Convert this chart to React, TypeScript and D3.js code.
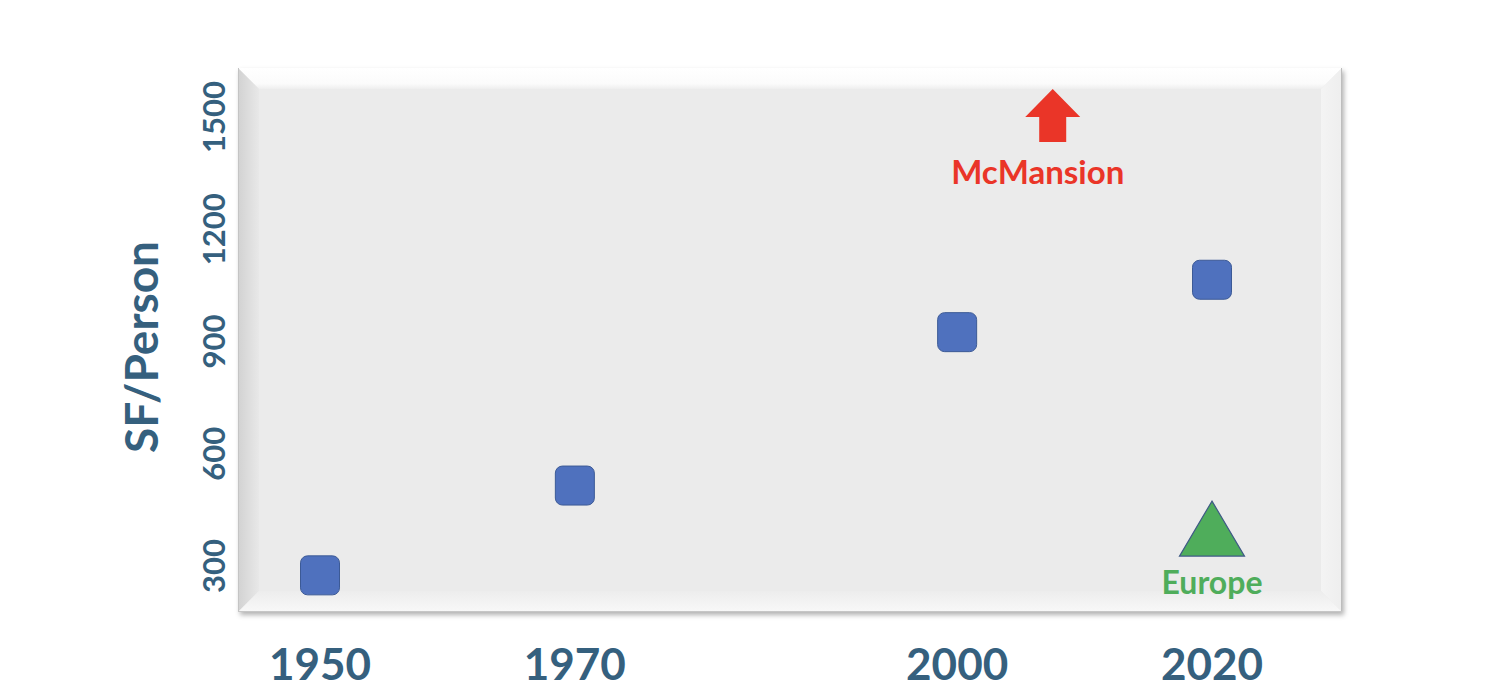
import React from "react";
import * as d3 from "d3";

const years = [1950, 1970, 2000, 2020];
const sfPerPerson = [275, 515, 925, 1065];
const xTickLabels = ["1950", "1970", "2000", "2020"];
const yTicks = [300, 600, 900, 1200, 1500];
const europeYear = [2020];
const europeValue = [400];
const mcmansionYear = [2007.5];
const mcmansionValue = [1500];

const W = 1496;
const H = 694;
const FONT = "Lato, 'Open Sans', sans-serif";
const AXIS_COLOR = "#35607e";

export default function App() {
  const x = d3.scaleLinear().domain([1950, 2020]).range([320, 1212]);
  const y = d3.scaleLinear().domain([300, 1500]).range([566, 117]);

  const L = 238, T = 68, R = 1342, B = 612, b = 21;
  const pts = (a: number[][]) => a.map((p) => p.join(",")).join(" ");

  const sq = 39;
  const triW = 65, triH = 55;

  const ax = x(mcmansionYear[0]);
  const ay = y(mcmansionValue[0]);
  const arrowPath = d3.path();
  const top = ay - 28, headBase = ay, bottom = ay + 25;
  arrowPath.moveTo(ax, top);
  arrowPath.lineTo(ax + 27.5, headBase);
  arrowPath.lineTo(ax + 13.5, headBase);
  arrowPath.lineTo(ax + 13.5, bottom);
  arrowPath.lineTo(ax - 13.5, bottom);
  arrowPath.lineTo(ax - 13.5, headBase);
  arrowPath.lineTo(ax - 27.5, headBase);
  arrowPath.closePath();

  const ex = x(europeYear[0]);
  const ey = y(europeValue[0]);
  const tri = d3.path();
  tri.moveTo(ex, ey - triH / 2);
  tri.lineTo(ex + triW / 2, ey + triH / 2);
  tri.lineTo(ex - triW / 2, ey + triH / 2);
  tri.closePath();

  return (
    <svg
      width={W}
      height={H}
      style={{ position: "absolute", left: 0, top: 0, display: "block", background: "#fff" }}
    >
      <defs>
        <filter id="shadow" x="-5%" y="-5%" width="110%" height="115%">
          <feDropShadow dx="2" dy="3" stdDeviation="2.5" floodColor="#000" floodOpacity="0.3" />
        </filter>
        <linearGradient id="gTop" x1="0" y1="0" x2="0" y2="1">
          <stop offset="0" stopColor="#ffffff" />
          <stop offset="0.75" stopColor="#fbfbfb" />
          <stop offset="1" stopColor="#eeeeee" />
        </linearGradient>
        <linearGradient id="gLeft" x1="0" y1="0" x2="1" y2="0">
          <stop offset="0" stopColor="#d2d2d2" />
          <stop offset="1" stopColor="#e8e8e8" />
        </linearGradient>
        <linearGradient id="gRight" x1="0" y1="0" x2="1" y2="0">
          <stop offset="0" stopColor="#f4f4f4" />
          <stop offset="1" stopColor="#eeeeee" />
        </linearGradient>
        <linearGradient id="gBottom" x1="0" y1="0" x2="0" y2="1">
          <stop offset="0" stopColor="#ededed" />
          <stop offset="1" stopColor="#f8f8f8" />
        </linearGradient>
      </defs>

      {/* beveled panel */}
      <rect x={L} y={T} width={R - L} height={B - T} fill="#ebebeb" filter="url(#shadow)" />
      <polygon points={pts([[L, T], [R, T], [R - b, T + b], [L + b, T + b]])} fill="url(#gTop)" />
      <polygon points={pts([[L, T], [L + b, T + b], [L + b, B - b], [L, B]])} fill="url(#gLeft)" />
      <polygon points={pts([[R, T], [R, B], [R - b, B - b], [R - b, T + b]])} fill="url(#gRight)" />
      <polygon points={pts([[L, B], [L + b, B - b], [R - b, B - b], [R, B]])} fill="url(#gBottom)" />
      <rect x={L + b} y={T + b} width={R - L - 2 * b} height={B - T - 2 * b} fill="#ebebeb" />
      <line x1={L + 0.5} y1={T} x2={L + 0.5} y2={B} stroke="#c4c4c4" strokeWidth={1} />
      <line x1={R - 0.5} y1={T} x2={R - 0.5} y2={B} stroke="#bdbdbd" strokeWidth={1} />
      <line x1={L} y1={B - 0.5} x2={R} y2={B - 0.5} stroke="#c6c6c6" strokeWidth={1} />

      {/* y tick labels */}
      {yTicks.map((t) => (
        <text
          key={t}
          transform={`translate(225,${y(t)}) rotate(-90)`}
          textAnchor="middle"
          fontFamily={FONT}
          fontWeight={700}
          fontSize={31}
          fill={AXIS_COLOR}
        >
          {t}
        </text>
      ))}

      {/* y axis title */}
      <text
        transform={`translate(158,347) rotate(-90)`}
        textAnchor="middle"
        fontFamily={FONT}
        fontWeight={700}
        fontSize={46}
        fill={AXIS_COLOR}
      >
        SF/Person
      </text>

      {/* x tick labels */}
      {years.map((yr, i) => (
        <text
          key={yr}
          x={x(yr)}
          y={680}
          textAnchor="middle"
          fontFamily={FONT}
          fontWeight={700}
          fontSize={44}
          fill={AXIS_COLOR}
        >
          {xTickLabels[i]}
        </text>
      ))}

      {/* data squares */}
      {years.map((yr, i) => (
        <rect
          key={yr}
          x={x(yr) - sq / 2}
          y={y(sfPerPerson[i]) - sq / 2}
          width={sq}
          height={sq}
          rx={7}
          ry={7}
          fill="#4f71be"
          stroke="#3c5a96"
          strokeWidth={1}
        />
      ))}

      {/* McMansion */}
      <path d={arrowPath.toString()} fill="#ea3528" />
      <text
        x={ax - 15}
        y={ay + 67}
        textAnchor="middle"
        fontFamily={FONT}
        fontWeight={700}
        fontSize={33}
        fill="#ea3528"
      >
        McMansion
      </text>

      {/* Europe */}
      <path d={tri.toString()} fill="#4fad5b" stroke="#3f5a86" strokeWidth={1.2} />
      <text
        x={ex}
        y={ey + 65}
        textAnchor="middle"
        fontFamily={FONT}
        fontWeight={700}
        fontSize={32}
        fill="#4fad5b"
      >
        Europe
      </text>
    </svg>
  );
}
